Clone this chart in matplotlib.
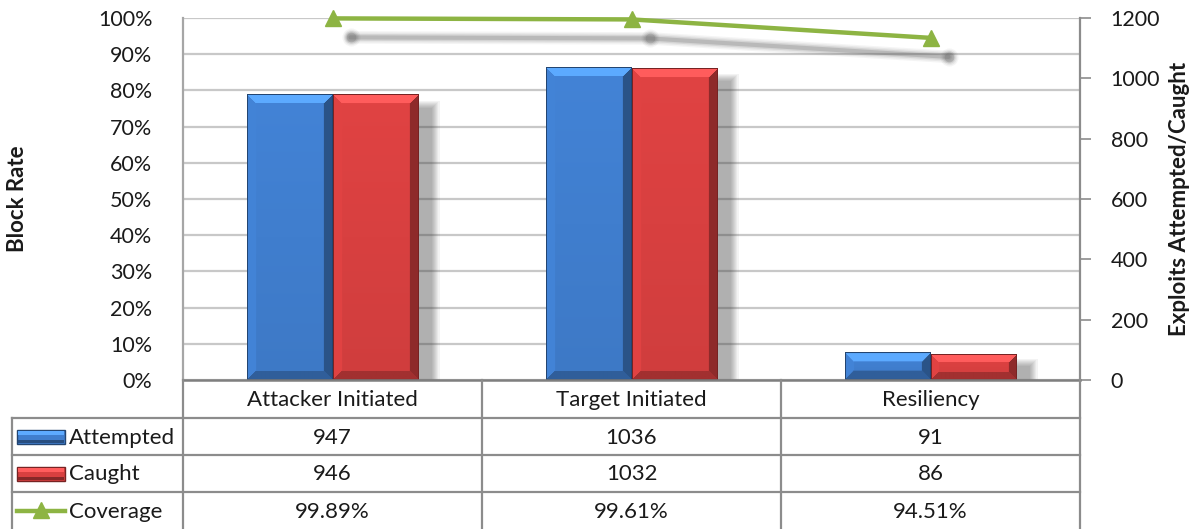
import numpy as np
import matplotlib
matplotlib.use('Agg')
import matplotlib.pyplot as plt
from matplotlib.patches import Rectangle
from matplotlib.lines import Line2D
import matplotlib.transforms as mtransforms

# ---------------- data ----------------
categories = ["Attacker Initiated", "Target Initiated", "Resiliency"]
series_names = ["Attempted", "Caught", "Coverage"]
attempted = [947, 1036, 91]
caught = [946, 1032, 86]
coverage = [99.89, 99.61, 94.51]          # percent
left_ticks = [0, 10, 20, 30, 40, 50, 60, 70, 80, 90, 100]
right_ticks = [0, 200, 400, 600, 800, 1000, 1200]
left_label = "Block Rate"
right_label = "Exploits Attempted/Caught"

# ---------------- style ----------------
plt.rcParams['font.family'] = ['Lato', 'DejaVu Sans']
BLUE = np.array([64, 126, 206]) / 255
RED = np.array([216, 64, 64]) / 255
GREEN = '#8DB443'
GRID = '#C8C8C8'
FRAME = '#8C8C8C'
TXT = '#1A1A1A'
FS = 15.5
FST = 16

W, H = 1192, 529
fig = plt.figure(figsize=(W / 100, H / 100), dpi=100)


def fx(x):
    return x / W


def fy(y):
    return 1 - y / H


L, R, T, B = 183, 1080, 18, 380
rect = [fx(L), fy(B), (R - L) / W, (B - T) / H]
ax = fig.add_axes(rect)          # left axis, grid
ax2 = ax.twinx()                 # right axis, bars
ax3 = fig.add_axes(rect, facecolor='none')  # line overlay (left scale)
ax3.axis('off')

x = np.arange(len(categories))
bw = 0.285
for a in (ax, ax2, ax3):
    a.set_xlim(-0.5, len(categories) - 0.5)
ax.set_ylim(0, 100)
ax3.set_ylim(0, 100)
ax2.set_ylim(0, 1200)

# grid & spines
ax.set_yticks(left_ticks)
ax.set_yticklabels([f"{t}%" for t in left_ticks])
ax.yaxis.grid(True, color=GRID, lw=1.6)
ax.set_axisbelow(True)
ax.set_xticks([])
ax.tick_params(axis='y', length=0, pad=22, labelsize=FS, labelcolor=TXT)
ax2.set_yticks(right_ticks)
ax2.tick_params(axis='y', length=8, width=1.2, color=FRAME, pad=14,
                labelsize=FS, labelcolor=TXT, direction='out')
for a in (ax, ax2):
    a.spines['top'].set_visible(False)
    a.spines['bottom'].set_visible(False)
ax.spines['right'].set_visible(False)
ax2.spines['left'].set_visible(False)
ax.spines['left'].set_color('#A6A6A6')
ax.spines['left'].set_linewidth(1.6)
ax2.spines['right'].set_color(FRAME)
ax2.spines['right'].set_linewidth(1.6)


# ---------------- bars ----------------
def bevel_image(base, wpx, hpx, b=9):
    wpx = max(int(round(wpx)), 2)
    hpx = max(int(round(hpx)), 2)
    b = int(min(b, hpx / 3, wpx / 3))
    ii, jj = np.mgrid[0:hpx, 0:wpx]
    dt = ii
    db = hpx - 1 - ii
    dl = jj
    dr = wpx - 1 - jj
    d = np.stack([dt, db, dl, dr])
    m = d.min(axis=0)
    face = d.argmin(axis=0)
    img = np.empty((hpx, wpx, 3))
    shade = 0.96 + 0.08 * (1 - ii / hpx)
    img[:] = (base[None, None, :] * shade[..., None])
    facets = [np.clip(base * 1.25 + 0.05, 0, 1),   # top
              base * 0.75,                         # bottom
              np.clip(base * 1.04, 0, 1),          # left
              base * 0.66]                         # right
    for k in range(4):
        mask = (m < b) & (face == k)
        img[mask] = facets[k]
    edge = m < 1
    img[edge] = base * 0.55
    return np.clip(img, 0, 1)


px_per_x = (R - L) / len(categories)
px_per_y = (B - T) / 1200

shadow_tr = mtransforms.offset_copy(ax2.transData, fig=fig, x=13, y=-15, units='dots')
for i in range(len(categories)):
    left = x[i] - bw
    top = max(attempted[i], caught[i])
    for k in range(8):
        e = (8 - k) * 1.1
        sh = Rectangle((left, 0), 2 * bw, top, transform=shadow_tr,
                       facecolor='#383838', alpha=0.06, lw=0, zorder=1)
        sh.set_bounds(left - e / px_per_x, 0, 2 * bw + 2 * e / px_per_x, top + e / px_per_y)
        ax2.add_patch(sh)

for vals, base, off in ((attempted, BLUE, -bw / 2), (caught, RED, bw / 2)):
    bars = ax2.bar(x + off, vals, width=bw, color=base, lw=0, zorder=2)
    for bar, v in zip(bars, vals):
        x0 = bar.get_x()
        img = bevel_image(base, bw * px_per_x, v * px_per_y)
        ax2.imshow(img, extent=(x0, x0 + bw, 0, v), aspect='auto', zorder=3,
                   interpolation='bilinear')
ax2.set_xlim(-0.5, len(categories) - 0.5)
ax2.set_ylim(0, 1200)

# ---------------- coverage line ----------------
line_sh = mtransforms.offset_copy(ax3.transData, fig=fig, x=18, y=-19, units='dots')
for lw_, al in ((9, 0.06), (7, 0.08), (5, 0.12), (3, 0.2)):
    ax3.plot(x, coverage, color='#505050', lw=lw_, alpha=al, transform=line_sh,
             solid_capstyle='round', clip_on=False)
    ax3.plot(x, coverage, ls='none', marker='o', ms=lw_ + 4, color='#505050',
             alpha=al, mec='none', transform=line_sh, clip_on=False)
ax3.plot(x, coverage, color=GREEN, lw=3.2, marker='^', ms=11, mfc=GREEN,
         mec=GREEN, clip_on=False, zorder=5)

# axis titles
fig.text(fx(18), fy(199), left_label, rotation=90, ha='center', va='center',
         fontsize=FST, fontweight='bold', color=TXT)
fig.text(fx(1179), fy(199), right_label, rotation=90, ha='center', va='center',
         fontsize=FST, fontweight='bold', color=TXT)

# ---------------- data table ----------------
col_edges = [L + (R - L) * k / len(categories) for k in range(len(categories) + 1)]
row_edges = [B, 418, 455, 492, 529]
TL = 12


def hline(y, x0, x1, c=FRAME, lw=1.6):
    fig.add_artist(Line2D([fx(x0), fx(x1)], [fy(y), fy(y)], color=c, lw=lw))


def vline(xp, y0, y1, c=FRAME, lw=1.6):
    fig.add_artist(Line2D([fx(xp), fx(xp)], [fy(y0), fy(y1)], color=c, lw=lw))


hline(B, L, R, c='#7F7F7F', lw=1.8)
for y in row_edges[1:4]:
    hline(y, TL, R)
vline(TL, row_edges[1], H)
vline(L, B, H, c=FRAME)
for xe in col_edges[1:]:
    vline(xe, B, H)

for j, cat in enumerate(categories):
    cx = (col_edges[j] + col_edges[j + 1]) / 2
    fig.text(fx(cx), fy((row_edges[0] + row_edges[1]) / 2 + 1), cat, ha='center',
             va='center', fontsize=FST, color=TXT)

rows = [[str(v) for v in attempted], [str(v) for v in caught],
        [f"{v:.2f}%" for v in coverage]]
for r, (name, vals) in enumerate(zip(series_names, rows)):
    cy = (row_edges[r + 1] + row_edges[r + 2]) / 2 + 1
    fig.text(fx(69), fy(cy), name, ha='left', va='center', fontsize=FST, color=TXT)
    for j, v in enumerate(vals):
        cx = (col_edges[j] + col_edges[j + 1]) / 2
        fig.text(fx(cx), fy(cy), v, ha='center', va='center', fontsize=FST, color=TXT)

# legend keys
for r, base in enumerate((BLUE, RED)):
    cy = (row_edges[r + 1] + row_edges[r + 2]) / 2
    fig.add_artist(Rectangle((fx(17), fy(cy + 7)), 48 / W, 14 / H, facecolor=base,
                             edgecolor=base * 0.55, lw=1.0, transform=fig.transFigure))
    fig.add_artist(Rectangle((fx(18), fy(cy - 2)), 46 / W, 4 / H,
                             facecolor=np.clip(base * 1.25 + 0.05, 0, 1), lw=0,
                             transform=fig.transFigure))
    fig.add_artist(Rectangle((fx(18), fy(cy + 6)), 46 / W, 3 / H,
                             facecolor=base * 0.62, lw=0, transform=fig.transFigure))
cy = (row_edges[3] + row_edges[4]) / 2
fig.add_artist(Line2D([fx(17), fx(65)], [fy(cy), fy(cy)], color=GREEN, lw=3.2))
fig.add_artist(Line2D([fx(41)], [fy(cy - 1)], color=GREEN, marker='^', ms=11, ls='none'))

fig.savefig('out.png', dpi=100)
